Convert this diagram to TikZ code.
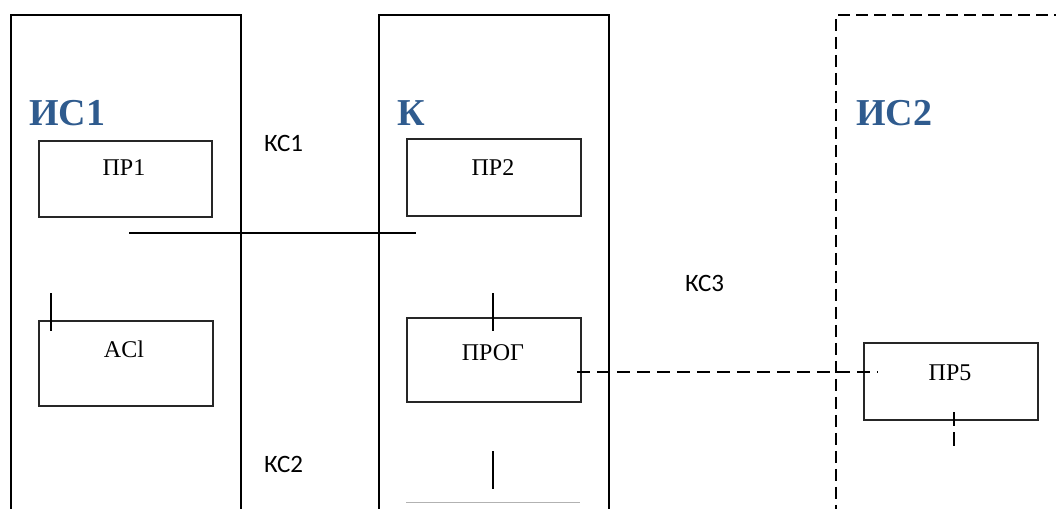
\documentclass[tikz,border=0pt]{standalone}
\usepackage{fontspec}
\setmainfont{Liberation Serif}
\newfontfamily\calib{Carlito}
\newfontfamily\titlefont{Liberation Serif}
\definecolor{titleblue}{RGB}{47,91,142}
\begin{document}
\begin{tikzpicture}[x=1pt,y=-1pt,
  outerbox/.style={draw=black,line width=1.8pt,anchor=north west,inner sep=0pt},
  outerdashbox/.style={draw=black,line width=1.8pt,anchor=north west,inner sep=0pt,dash pattern=on 12pt off 6pt},
  innerbox/.style={draw=black!85,line width=1.6pt,anchor=north west,inner sep=0pt},
  ttl/.style={text=titleblue,font={\titlefont\bfseries\fontsize{38}{40}\selectfont},inner sep=0pt,anchor=base west},
  boxtext/.style={font={\fontsize{24}{26}\selectfont},inner sep=0pt,anchor=base},
  chanlbl/.style={font={\calib\fontsize{25}{28}\selectfont},inner sep=0pt,anchor=base west},
  solidlink/.style={line width=1.6pt},
  dashlink/.style={line width=1.6pt,dash pattern=on 13pt off 7pt}
]
\useasboundingbox (0,0) rectangle (1056,508);
\clip (0,0) rectangle (1056,508);
% containers
\node[outerbox,minimum width=230pt,minimum height=520pt] (is1) at (10,14) {};
\node[outerbox,minimum width=230pt,minimum height=520pt] (k) at (378,14) {};
\node[outerdashbox,minimum width=260pt,minimum height=520pt] (is2) at (835,14) {};
% titles
\node[ttl] (t1) at (29,125) {ИС1};
\node[ttl] (tk) at (397,125) {К};
\node[ttl] (t2) at (856,125) {ИС2};
% channel labels
\node[chanlbl] (ks1) at (264,151) {КС1};
\node[chanlbl] (ks2) at (264,472) {КС2};
\node[chanlbl] (ks3) at (685,291) {КС3};
% inner boxes
\node[innerbox,minimum width=173pt,minimum height=76pt] (pr1) at (38,140) {};
\node[innerbox,minimum width=174pt,minimum height=85pt] (ac) at (38,320) {};
\node[innerbox,minimum width=174pt,minimum height=77pt] (pr2) at (406,138) {};
\node[innerbox,minimum width=174pt,minimum height=84pt] (prog) at (406,317) {};
\node[innerbox,minimum width=174pt,minimum height=77pt] (pr5) at (863,342) {};
% box texts
\node[boxtext] (pr1t) at (124,175) {ПР1};
\node[boxtext] (act) at (124,357) {ACl};
\node[boxtext] (pr2t) at (493,175) {ПР2};
\node[boxtext] (progt) at (493,360) {ПРОГ};
\node[boxtext] (pr5t) at (950,380) {ПР5};
% bottom partial box (gray top edge)
\coordinate (bl) at (406,502);
\coordinate (br) at (580,502);
\draw[gray!60,line width=1pt] (bl) -- (br);
% connectors
\coordinate (h1) at (129,233);
\coordinate (h2) at (416,233);
\draw[solidlink] (h1) -- (h2);
\coordinate (a1) at (51,293);
\coordinate (a2) at (51,331);
\draw[solidlink] (a1) -- (a2);
\coordinate (p1) at (493,293);
\coordinate (p2) at (493,331);
\draw[solidlink] (p1) -- (p2);
\coordinate (q1) at (493,451);
\coordinate (q2) at (493,489);
\draw[solidlink] (q1) -- (q2);
\coordinate (d1) at (577,372);
\coordinate (d2) at (878,372);
\draw[dashlink] (d1) -- (d2);
\coordinate (e1) at (954,412);
\coordinate (e2) at (954,450);
\draw[dashlink,dash pattern=on 14pt off 6pt] (e1) -- (e2);
\end{tikzpicture}
\end{document}
